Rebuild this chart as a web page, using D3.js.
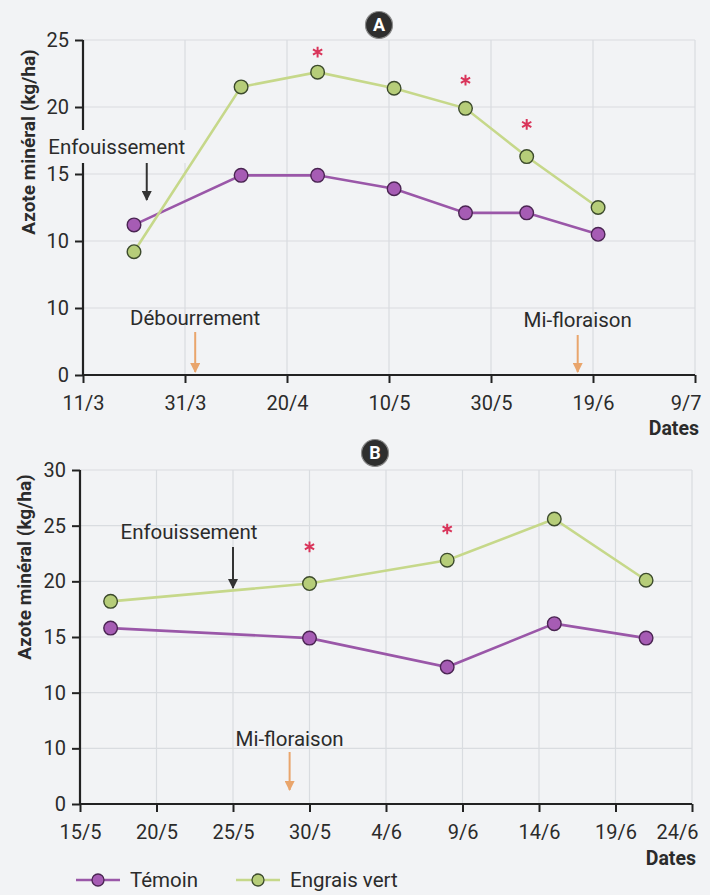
<!DOCTYPE html>
<html>
<head>
<meta charset="utf-8">
<script src="https://cdn.jsdelivr.net/npm/d3@7"></script>
<style>
  html, body { margin: 0; padding: 0; background: #f2f3f5; }
  svg { display: block; font-family: Roboto, "Liberation Sans", Arial, sans-serif; }
</style>
</head>
<body>
<svg id="chart" width="710" height="895"></svg>
<script>
// Panel A : nitrogen over the season (11/3 to 9/7)
const tickDatesA = ["11/3", "31/3", "20/4", "10/5", "30/5", "19/6", "9/7"];
const datesA = ["21/3", "11/4", "26/4", "11/5", "25/5", "6/6", "20/6"];
const temoinA = [11.2, 14.9, 14.9, 13.9, 12.1, 12.1, 10.5];
const engraisA = [9.2, 21.5, 22.6, 21.4, 19.9, 16.3, 12.5];
const yTicksA = [0, 5, 10, 15, 20, 25];
const yTickLabelsA = ["0", "10", "10", "15", "20", "25"];
const starDatesA = ["26/4", "25/5", "6/6"];
const starValuesA = [24.1, 22.0, 18.7];

// Panel B : nitrogen from mid-May to late June
const tickDatesB = ["15/5", "20/5", "25/5", "30/5", "4/6", "9/6", "14/6", "19/6", "24/6"];
const datesB = ["17/5", "30/5", "8/6", "15/6", "21/6"];
const temoinB = [15.8, 14.9, 12.3, 16.2, 14.9];
const engraisB = [18.2, 19.8, 21.9, 25.6, 20.1];
const yTicksB = [0, 5, 10, 15, 20, 25, 30];
const yTickLabelsB = ["0", "10", "10", "15", "20", "25", "30"];
const starDatesB = ["30/5", "8/6"];
const starValuesB = [23.1, 24.7];

const seriesNames = ["Témoin", "Engrais vert"];

const C = {
  bg: "#f2f3f5",
  grid: "#d9dce0",
  axis: "#222",
  purpleLine: "#9a57a8",
  purpleFill: "#a65cb4",
  purpleEdge: "#4a2552",
  greenLine: "#c6d88a",
  greenFill: "#b6cd79",
  greenEdge: "#3c4a2c",
  star: "#d9345a",
  orange: "#e9a56c",
  text: "#2b2b2b"
};

// "d/m" (day may be fractional) -> Date
function parseDM(s) {
  const [d, m] = s.split("/").map(Number);
  return new Date(new Date(2021, m - 1, 1).getTime() + (d - 1) * 864e5);
}

const svg = d3.select("#chart");

const defs = svg.append("defs");
function marker(id, color) {
  defs.append("marker")
    .attr("id", id).attr("viewBox", "0 0 10 10")
    .attr("refX", 9).attr("refY", 5)
    .attr("markerWidth", 5).attr("markerHeight", 5)
    .attr("markerUnits", "strokeWidth")
    .attr("orient", "auto")
    .append("path").attr("d", "M0,0 L10,5 L0,10 Z").attr("fill", color);
}
marker("arrBlack", "#333");
marker("arrOrange", C.orange);

function drawPanel(cfg) {
  const g = svg.append("g");
  const x = d3.scaleTime()
    .domain([parseDM(cfg.tickDates[0]), parseDM(cfg.tickDates[cfg.tickDates.length - 1])])
    .range([cfg.left, cfg.right]);
  const y = d3.scaleLinear().domain([0, cfg.yTicks[cfg.yTicks.length - 1]]).range([cfg.bottom, cfg.top]);

  // grid
  const grid = g.append("g").attr("stroke", C.grid).attr("stroke-width", 1.2);
  cfg.yTicks.slice(1).forEach(v => {
    grid.append("line").attr("x1", cfg.left).attr("x2", cfg.right)
      .attr("y1", y(v)).attr("y2", y(v));
  });
  cfg.tickDates.slice(1).forEach(t => {
    grid.append("line").attr("x1", x(parseDM(t))).attr("x2", x(parseDM(t)))
      .attr("y1", cfg.top).attr("y2", cfg.bottom);
  });

  // y axis
  const yAxis = d3.axisLeft(y).tickValues(cfg.yTicks)
    .tickFormat((d, i) => cfg.yTickLabels[i]).tickSize(8).tickPadding(6);
  const ya = g.append("g").attr("transform", `translate(${cfg.left},0)`).call(yAxis);
  // x axis
  const xAxis = d3.axisBottom(x).tickValues(cfg.tickDates.map(parseDM))
    .tickFormat((d, i) => cfg.tickDates[i]).tickSize(8).tickPadding(13);
  const xa = g.append("g").attr("transform", `translate(0,${cfg.bottom})`).call(xAxis);

  [ya, xa].forEach(a => {
    a.select(".domain").attr("stroke", C.axis).attr("stroke-width", 2.2);
    a.selectAll(".tick line").attr("stroke", C.axis).attr("stroke-width", 2);
    a.selectAll(".tick text").attr("fill", C.text).attr("font-size", 20)
      .attr("font-family", "Roboto, sans-serif");
  });
  ya.select(".domain").attr("d", `M0,${cfg.bottom}V${cfg.top}`);
  xa.select(".domain").attr("d", `M${cfg.left},0H${cfg.right}`);
  // last date label is pulled inside the frame
  xa.selectAll(".tick text").filter((d, i) => i === cfg.tickDates.length - 1)
    .attr("text-anchor", "end").attr("x", 6);

  // "Dates" axis title
  g.append("text").attr("x", cfg.right + 4).attr("y", cfg.datesY)
    .attr("text-anchor", "end").attr("font-weight", "bold").attr("font-size", 19.5)
    .attr("fill", C.text).text("Dates");

  // y axis title
  g.append("text")
    .attr("transform", `translate(${cfg.yTitleX},${cfg.yTitleY}) rotate(-90)`)
    .attr("text-anchor", "middle").attr("dy", "0.35em")
    .attr("font-weight", "bold").attr("font-size", 19).attr("fill", C.text)
    .text("Azote minéral (kg/ha)");

  // annotations
  cfg.notes.forEach(n => {
    const ax = x(parseDM(n.date));
    if (n.knockout) {
      g.append("rect").attr("x", ax + n.dx - 72).attr("y", n.textY - 24)
        .attr("width", 144).attr("height", 33).attr("fill", C.bg);
    }
    g.append("text").attr("x", ax + n.dx).attr("y", n.textY)
      .attr("text-anchor", "middle").attr("font-size", 20.5).attr("fill", C.text)
      .text(n.label);
    g.append("line").attr("x1", ax).attr("x2", ax)
      .attr("y1", n.y1).attr("y2", n.y2)
      .attr("stroke", n.color).attr("stroke-width", 2)
      .attr("marker-end", `url(#${n.color === C.orange ? "arrOrange" : "arrBlack"})`);
  });

  // series
  const series = [
    { vals: cfg.temoin, line: C.purpleLine, fill: C.purpleFill, edge: C.purpleEdge },
    { vals: cfg.engrais, line: C.greenLine, fill: C.greenFill, edge: C.greenEdge }
  ];
  const line = d3.line().x(d => x(d.date)).y(d => y(d.v));
  series.forEach(s => {
    const pts = cfg.dates.map((t, i) => ({ date: parseDM(t), v: s.vals[i] }));
    g.append("path").datum(pts).attr("d", line).attr("fill", "none")
      .attr("stroke", s.line).attr("stroke-width", 2.6);
    g.selectAll(null).data(pts).join("circle")
      .attr("cx", d => x(d.date)).attr("cy", d => y(d.v)).attr("r", 6.8)
      .attr("fill", s.fill).attr("stroke", s.edge).attr("stroke-width", 1.4);
  });

  // significance marks
  const star = d3.symbol().type(d3.symbolAsterisk || d3.symbolCross).size(80);
  cfg.starDates.forEach((t, i) => {
    g.append("path").attr("d", star())
      .attr("transform", `translate(${x(parseDM(t))},${y(cfg.starValues[i])})`)
      .attr("fill", "none").attr("stroke", C.star).attr("stroke-width", 2);
  });

  // panel badge
  g.append("circle").attr("cx", cfg.badge[0]).attr("cy", cfg.badge[1]).attr("r", 13.5)
    .attr("fill", "#2e2e2e").attr("stroke", "#8a8a8a").attr("stroke-width", 1.2);
  g.append("text").attr("x", cfg.badge[0]).attr("y", cfg.badge[1]).attr("dy", "0.36em")
    .attr("text-anchor", "middle").attr("font-weight", "bold").attr("font-size", 18)
    .attr("fill", "#fff").text(cfg.badgeLabel);
}

drawPanel({
  left: 83, right: 695, top: 40, bottom: 375,
  tickDates: tickDatesA, dates: datesA, temoin: temoinA, engrais: engraisA,
  yTicks: yTicksA, yTickLabels: yTickLabelsA,
  starDates: starDatesA, starValues: starValuesA,
  datesY: 435, yTitleX: 28, yTitleY: 142,
  badge: [379, 25], badgeLabel: "A",
  notes: [
    { label: "Enfouissement", date: "23.5/3", dx: -30, textY: 154, y1: 163, y2: 200, color: "#333", knockout: true },
    { label: "Débourrement", date: "2/4", dx: 0, textY: 325, y1: 332, y2: 372, color: C.orange },
    { label: "Mi-floraison", date: "16/6", dx: 0, textY: 327, y1: 335, y2: 372, color: C.orange }
  ]
});

drawPanel({
  left: 80, right: 692, top: 470, bottom: 804,
  tickDates: tickDatesB, dates: datesB, temoin: temoinB, engrais: engraisB,
  yTicks: yTicksB, yTickLabels: yTickLabelsB,
  starDates: starDatesB, starValues: starValuesB,
  datesY: 865, yTitleX: 24, yTitleY: 567,
  badge: [375, 453], badgeLabel: "B",
  notes: [
    { label: "Enfouissement", date: "25/5", dx: -44, textY: 539, y1: 547, y2: 588, color: "#333" },
    { label: "Mi-floraison", date: "28.7/5", dx: 0, textY: 746, y1: 752, y2: 790, color: C.orange }
  ]
});

// legend
const legend = svg.append("g");
const legendItems = [
  { name: seriesNames[0], line: C.purpleLine, fill: C.purpleFill, edge: C.purpleEdge, x: 76 },
  { name: seriesNames[1], line: C.greenLine, fill: C.greenFill, edge: C.greenEdge, x: 236 }
];
legendItems.forEach(it => {
  legend.append("line").attr("x1", it.x).attr("x2", it.x + 44).attr("y1", 880).attr("y2", 880)
    .attr("stroke", it.line).attr("stroke-width", 2.6);
  legend.append("circle").attr("cx", it.x + 22).attr("cy", 880).attr("r", 6)
    .attr("fill", it.fill).attr("stroke", it.edge).attr("stroke-width", 1.3);
  legend.append("text").attr("x", it.x + 54).attr("y", 887).attr("font-size", 20.5)
    .attr("fill", C.text).text(it.name);
});
</script>
</body>
</html>
